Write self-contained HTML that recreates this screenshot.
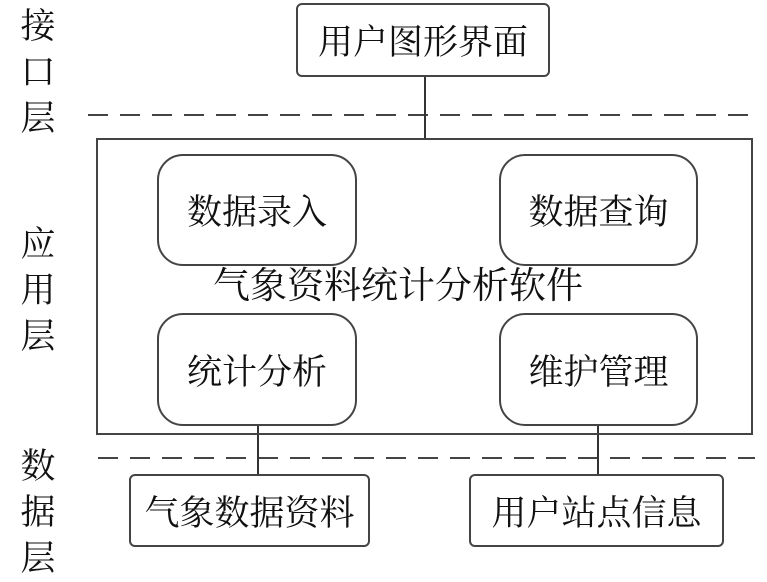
<!DOCTYPE html>
<html><head><meta charset="utf-8"><style>
body{margin:0;width:767px;height:579px;background:#fff;position:relative;overflow:hidden;font-family:"Liberation Serif","Noto Serif CJK SC",serif;color:#111}
.b{position:absolute;border:2px solid #444;box-sizing:border-box;display:flex;align-items:center;justify-content:center;font-size:35px;background:#fff}
.t{position:absolute;font-size:35px;line-height:46px;width:40px;text-align:center}
.l{position:absolute;background:#333}
</style></head><body>
<div class="t" style="left:18px;top:4px">接<br>口<br>层</div>
<div class="t" style="left:18px;top:222px">应<br>用<br>层</div>
<div class="t" style="left:18px;top:444px">数<br>据<br>层</div>

<svg style="position:absolute;left:0;top:0" width="767" height="579">
<line x1="88" y1="115" x2="755" y2="115" stroke="#444" stroke-width="2" stroke-dasharray="20,12"/>
<line x1="98" y1="458" x2="755" y2="458" stroke="#444" stroke-width="2" stroke-dasharray="20,12"/>
<line x1="425" y1="75" x2="425" y2="139" stroke="#333" stroke-width="2"/>
<line x1="258" y1="425" x2="258" y2="475" stroke="#333" stroke-width="2"/>
<line x1="598" y1="425" x2="598" y2="475" stroke="#333" stroke-width="2"/>
</svg>

<div class="b" style="left:296px;top:3px;width:254px;height:74px;border-radius:6px">用户图形界面</div>
<div class="b" style="left:96px;top:138px;width:657px;height:297px;border-radius:0;background:transparent"></div>
<div class="b" style="left:157px;top:154px;width:200px;height:112px;border-radius:26px">数据录入</div>
<div class="b" style="left:499px;top:154px;width:199px;height:112px;border-radius:26px">数据查询</div>
<div class="b" style="left:157px;top:313px;width:200px;height:113px;border-radius:26px">统计分析</div>
<div class="b" style="left:499px;top:313px;width:199px;height:113px;border-radius:26px">维护管理</div>
<div style="position:absolute;left:198px;top:265px;width:400px;text-align:center;font-size:37px;line-height:44px">气象资料统计分析软件</div>
<div class="b" style="left:129px;top:474px;width:241px;height:73px;border-radius:6px">气象数据资料</div>
<div class="b" style="left:469px;top:474px;width:255px;height:73px;border-radius:6px">用户站点信息</div>
</body></html>
